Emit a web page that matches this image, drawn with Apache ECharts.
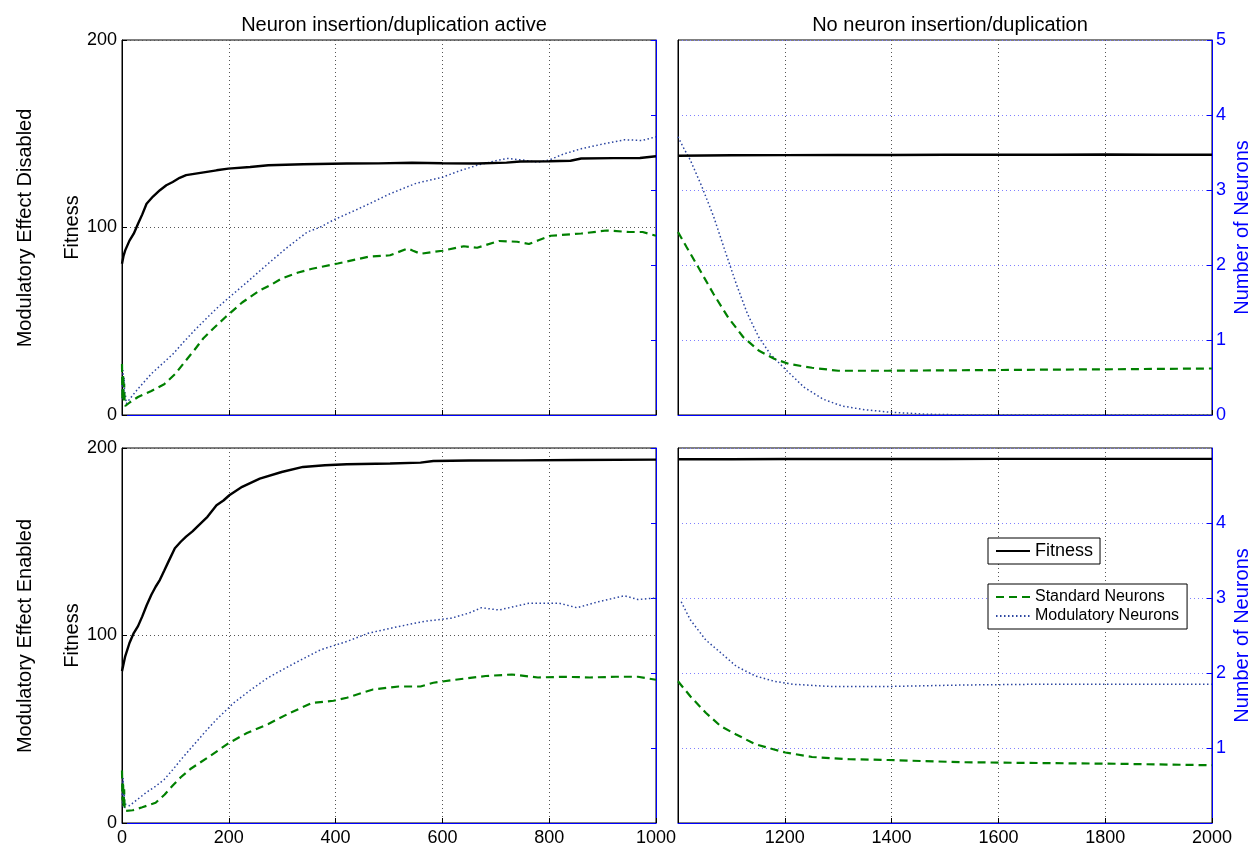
<!DOCTYPE html>
<html><head><meta charset="utf-8">
<script src="https://cdn.jsdelivr.net/npm/echarts@6/dist/echarts.min.js"></script>
<style>html,body{margin:0;padding:0;background:#fff}#c{width:1254px;height:850px}</style>
</head><body><div id="c"></div>
<script>
const FONT = "'Liberation Sans', Arial, Helvetica, sans-serif";

// ---- Data (generation, value) ----
const colTitles = ['Neuron insertion/duplication active', 'No neuron insertion/duplication'];
const rowTitles = ['Modulatory Effect Disabled', 'Modulatory Effect Enabled'];
const seriesNames = ['Fitness', 'Standard Neurons', 'Modulatory Neurons'];
const fitTicks = [0, 100, 200];
const neuTicks = [0, 1, 2, 3, 4, 5];

// Top-left: disabled, insertion active (gen 0..1000)
const tlFit = [[0,80.7],[3,85],[6,87.8],[14,93],[22,96.7],[30,102],[38,107],[46,112.7],[58,116.5],[71,119.9],[83,122.5],[95,124.3],[108,126.5],[120,127.9],[150,129.3],[177,130.5],[199,131.4],[240,132.3],[274,133.2],[339,133.7],[421,134.1],[480,134.2],[543,134.5],[600,134.3],[665,134.1],[720,134.6],[746,135.2],[800,135.3],[840,135.6],[860,136.8],[920,137],[970,137.1],[1000,138]];
const tlStd = [[0,0.68],[1,0.2],[2,0.55],[3,0.18],[4,0.42],[5,0.15],[6,0.12],[15,0.17],[30,0.24],[55,0.32],[79,0.41],[100,0.55],[120,0.73],[136,0.87],[152,1.02],[172,1.16],[193,1.30],[225,1.50],[258,1.66],[280,1.74],[299,1.82],[330,1.90],[356,1.95],[404,2.02],[461,2.11],[502,2.13],[535,2.22],[545,2.19],[559,2.15],[600,2.19],[640,2.25],[665,2.23],[706,2.32],[740,2.31],[762,2.28],[780,2.33],[803,2.39],[860,2.42],[908,2.46],[950,2.44],[975,2.44],[1000,2.39]];
const tlMod = [[0,0.45],[1,0.2],[2,0.6],[3,0.25],[4,0.5],[5,0.22],[6,0.3],[8,0.15],[14,0.21],[30,0.35],[55,0.55],[75,0.68],[95,0.81],[115,0.97],[136,1.13],[157,1.28],[177,1.42],[201,1.57],[234,1.77],[274,2.02],[307,2.22],[347,2.44],[370,2.50],[396,2.60],[437,2.73],[470,2.84],[502,2.95],[551,3.09],[600,3.17],[630,3.25],[665,3.33],[700,3.39],[722,3.42],[750,3.40],[779,3.37],[800,3.40],[827,3.48],[860,3.55],[892,3.60],[920,3.64],[941,3.67],[974,3.66],[1000,3.71]];

// Top-right: disabled, no insertion (gen 1000..2000)
const trFit = [[1000,138.3],[1100,138.5],[1200,138.6],[1300,138.7],[1400,138.7],[1500,138.8],[1600,138.8],[1700,138.8],[1800,138.9],[1900,138.8],[2000,138.8]];
const trStd = [[1000,2.44],[1016,2.24],[1038,1.97],[1066,1.62],[1094,1.30],[1122,1.04],[1151,0.86],[1180,0.75],[1208,0.68],[1251,0.63],[1300,0.59],[1393,0.59],[1500,0.595],[1606,0.60],[1700,0.605],[1820,0.61],[1900,0.615],[2000,0.62]];
const trMod = [[1000,3.71],[1009,3.58],[1023,3.40],[1045,3.04],[1067,2.64],[1088,2.19],[1109,1.75],[1130,1.35],[1151,1.04],[1173,0.81],[1201,0.61],[1236,0.37],[1272,0.21],[1307,0.12],[1350,0.07],[1393,0.04],[1464,0.01],[1550,0.0],[1700,0],[2000,0]];

// Bottom-left: enabled, insertion active
const blFit = [[0,81.0],[6,88.9],[14,96.0],[22,101.3],[30,105],[38,110.2],[46,116],[55,121.7],[63,126],[71,129.7],[79,134.5],[87,139.4],[99,146.5],[110,150],[120,152.7],[132,155.5],[144,158.9],[160,163.3],[177,169.5],[190,172],[201,174.8],[225,179.3],[258,183.7],[299,187.2],[339,189.9],[380,190.8],[421,191.3],[502,191.7],[559,192.2],[583,193.1],[650,193.3],[746,193.4],[850,193.6],[1000,193.8]];
const blStd = [[0,0.7],[1,0.3],[2,0.55],[3,0.2],[4,0.45],[5,0.16],[6,0.14],[20,0.17],[38,0.21],[63,0.27],[80,0.38],[95,0.50],[110,0.61],[128,0.72],[160,0.87],[201,1.07],[234,1.20],[274,1.32],[315,1.47],[356,1.60],[396,1.63],[421,1.67],[470,1.78],[518,1.82],[559,1.82],[583,1.87],[624,1.91],[681,1.96],[730,1.98],[779,1.94],[827,1.95],[876,1.94],[925,1.95],[966,1.95],[1000,1.91]];
const blMod = [[0,0.5],[1,0.22],[2,0.6],[3,0.28],[4,0.45],[5,0.2],[7,0.25],[14,0.23],[30,0.32],[46,0.41],[63,0.49],[79,0.58],[95,0.71],[111,0.85],[128,0.99],[144,1.12],[160,1.25],[177,1.38],[209,1.60],[242,1.78],[274,1.94],[323,2.13],[372,2.31],[421,2.42],[461,2.53],[518,2.62],[567,2.69],[616,2.73],[650,2.80],[673,2.87],[706,2.84],[762,2.93],[819,2.93],[852,2.87],[892,2.95],[941,3.03],[966,2.98],[1000,3.00]];

// Bottom-right: enabled, no insertion
const brFit = [[1000,194.0],[1100,194.0],[1200,194.1],[1300,194.1],[1400,194.1],[1500,194.1],[1600,194.2],[1700,194.2],[1800,194.2],[1900,194.2],[2000,194.2]];
const brStd = [[1000,1.89],[1023,1.69],[1052,1.47],[1080,1.29],[1109,1.18],[1145,1.05],[1180,0.98],[1201,0.94],[1251,0.88],[1322,0.85],[1393,0.84],[1534,0.81],[1676,0.80],[1820,0.79],[2000,0.77]];
const brMod = [[1006,2.95],[1023,2.71],[1052,2.44],[1080,2.27],[1109,2.09],[1145,1.96],[1180,1.89],[1215,1.85],[1286,1.82],[1393,1.82],[1534,1.84],[1676,1.85],[1820,1.85],[2000,1.85]];

// ---- Layout / style ----
const panels = [
  {grid:{left:122, top:40, width:534, height:375}, xr:[0,1000], leftPanel:true,  bottom:false, fit:tlFit, std:tlStd, mod:tlMod},
  {grid:{left:678, top:40, width:534, height:375}, xr:[1000,2000], leftPanel:false, bottom:false, fit:trFit, std:trStd, mod:trMod, neuLabels:'all'},
  {grid:{left:122, top:448, width:534, height:375}, xr:[0,1000], leftPanel:true,  bottom:true, fit:blFit, std:blStd, mod:blMod},
  {grid:{left:678, top:448, width:534, height:375}, xr:[1000,2000], leftPanel:false, bottom:true, fit:brFit, std:brStd, mod:brMod, neuLabels:'inner'}
];
const BLUE = '#0000ff';
const GRIDDOT = {type:[1,3], color:'#555', width:1};
const plain = v => String(v);

const grid = [], xAxis = [], yAxis = [], series = [];
panels.forEach((p, g) => {
  grid.push(Object.assign({show:true, borderColor:'#000', borderWidth:1, containLabel:false}, p.grid));
  xAxis.push({
    type:'value', gridIndex:g, min:p.xr[0], max:p.xr[1], interval:200,
    axisLine:{show:true, onZero:false, lineStyle:{color:BLUE, width:1}},
    axisTick:{show:true, inside:true, length:5, lineStyle:{color:'#000'}},
    axisLabel:{show:p.bottom, color:'#000', fontFamily:FONT, fontSize:18, margin:6, formatter:plain,
      showMinLabel: p.leftPanel, showMaxLabel:true},
    splitLine:{show:true, lineStyle:GRIDDOT}
  });
  // left: fitness
  yAxis.push({
    type:'value', gridIndex:g, position:'left', min:fitTicks[0], max:fitTicks[2], interval:100,
    name: p.leftPanel ? 'Fitness' : '', nameLocation:'middle', nameGap:40,
    nameTextStyle:{color:'#000', fontFamily:FONT, fontSize:20},
    axisLine:{show:true, onZero:false, lineStyle:{color:'#000', width:1}},
    axisTick:{show:p.leftPanel, inside:true, length:5, lineStyle:{color:'#000'}},
    axisLabel:{show:p.leftPanel, color:'#000', fontFamily:FONT, fontSize:18, margin:5, formatter:plain},
    splitLine:{show:p.leftPanel, lineStyle:GRIDDOT}
  });
  // right: neurons
  yAxis.push({
    type:'value', gridIndex:g, position:'right', min:neuTicks[0], max:neuTicks[5], interval:1,
    name: p.leftPanel ? '' : 'Number of Neurons', nameLocation:'middle', nameGap:20,
    nameTextStyle:{color:BLUE, fontFamily:FONT, fontSize:20},
    axisLine:{show:true, onZero:false, lineStyle:{color:BLUE, width:1}},
    axisTick:{show:true, inside:true, length:5, lineStyle:{color:BLUE}},
    axisLabel:{show:!p.leftPanel, color:BLUE, fontFamily:FONT, fontSize:18, margin:4, formatter:plain,
      showMinLabel: p.neuLabels==='all', showMaxLabel: p.neuLabels==='all'},
    splitLine:{show:!p.leftPanel, lineStyle:{type:[1,3], color:'#8080ff', width:1}}
  });
  series.push({
    name:seriesNames[0], type:'line', xAxisIndex:g, yAxisIndex:2*g, data:p.fit,
    symbol:'none', smooth:false, z:5, lineStyle:{color:'#000', width:2.4, type:'solid'}, itemStyle:{color:'#000'}
  });
  series.push({
    name:seriesNames[1], type:'line', xAxisIndex:g, yAxisIndex:2*g+1, data:p.std,
    symbol:'none', z:4, lineStyle:{color:'#008000', width:2.2, type:[8,5]}, itemStyle:{color:'#008000'}
  });
  series.push({
    name:seriesNames[2], type:'line', xAxisIndex:g, yAxisIndex:2*g+1, data:p.mod,
    symbol:'none', z:3, lineStyle:{color:'#2a44a0', width:1.5, type:[1.5,2.5]}, itemStyle:{color:'#2a44a0'}
  });
});

const legendBase = {
  orient:'vertical', selectedMode:false, itemWidth:34, itemHeight:14,
  borderColor:'#000', borderWidth:1, backgroundColor:'#fff',
  itemStyle:{color:'rgba(0,0,0,0)', borderColor:'rgba(0,0,0,0)', borderWidth:0, opacity:0}
};

const option = {
  animation:false,
  backgroundColor:'#fff',
  title:[
    {text:colTitles[0], left:389, top:10, textAlign:'center', textStyle:{fontFamily:FONT, fontSize:20, fontWeight:'normal', color:'#000'}},
    {text:colTitles[1], left:945, top:10, textAlign:'center', textStyle:{fontFamily:FONT, fontSize:20, fontWeight:'normal', color:'#000'}}
  ],
  graphic:[
    {type:'text', x:25, y:228, rotation:Math.PI/2, style:{text:rowTitles[0], fill:'#000', font:'20px '+FONT, align:'center', verticalAlign:'middle'}},
    {type:'text', x:25, y:636, rotation:Math.PI/2, style:{text:rowTitles[1], fill:'#000', font:'20px '+FONT, align:'center', verticalAlign:'middle'}}
  ],
  legend:[
    Object.assign({}, legendBase, {data:[seriesNames[0]], left:988, top:538, itemGap:4, padding:[4,7,4,7],
      textStyle:{fontFamily:FONT, fontSize:18, color:'#000'}}),
    Object.assign({}, legendBase, {data:[seriesNames[1], seriesNames[2]], left:988, top:584, itemGap:3, padding:[5,8,5,7],
      textStyle:{fontFamily:FONT, fontSize:16, color:'#000'}})
  ],
  grid, xAxis, yAxis, series
};
const chart = echarts.init(document.getElementById('c'), null, {renderer:'canvas'});
chart.setOption(option);
</script>
</body></html>
